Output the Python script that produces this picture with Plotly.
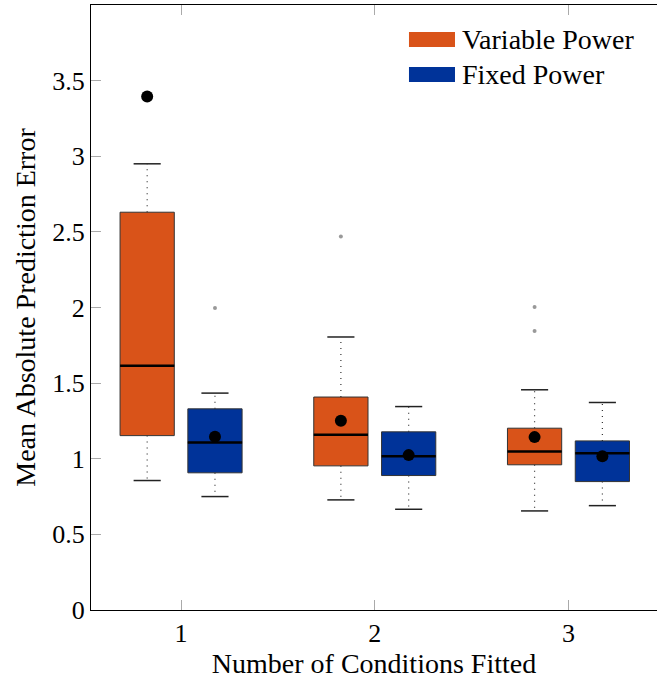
import plotly.graph_objects as go

groups = [1, 2, 3]
series_names = ["Variable Power", "Fixed Power"]
colors = ["#D95319", "#003399"]

# Variable Power stats
var_lower = [0.856, 0.728, 0.655]
var_q1 = [1.153, 0.953, 0.960]
var_median = [1.615, 1.158, 1.048]
var_q3 = [2.63, 1.408, 1.202]
var_upper = [2.95, 1.805, 1.456]
var_mean = [3.395, 1.251, 1.143]
var_outliers = [[], [2.47], [2.003, 1.844]]

# Fixed Power stats
fix_lower = [0.750, 0.666, 0.690]
fix_q1 = [0.907, 0.889, 0.849]
fix_median = [1.107, 1.017, 1.037]
fix_q3 = [1.330, 1.178, 1.118]
fix_upper = [1.434, 1.345, 1.372]
fix_mean = [1.145, 1.024, 1.017]
fix_outliers = [[1.997], [], []]

offsets = [-0.175, 0.175]
box_w = 0.28
cap_w = 0.14

FONT = "'Liberation Serif', 'Times New Roman', serif"

fig = go.Figure()

series = [
    (var_lower, var_q1, var_median, var_q3, var_upper, var_mean, var_outliers),
    (fix_lower, fix_q1, fix_median, fix_q3, fix_upper, fix_mean, fix_outliers),
]

for si, (lo, q1, med, q3, up, mean, outl) in enumerate(series):
    xs = [g + offsets[si] for g in groups]
    fig.add_trace(go.Box(
        x=xs, q1=q1, median=med, q3=q3, lowerfence=q1, upperfence=q3,
        width=box_w, fillcolor=colors[si], name=series_names[si],
        line=dict(color="#333333", width=1), whiskerwidth=0,
        boxpoints=False, showlegend=False,
    ))

for si, (lo, q1, med, q3, up, mean, outl) in enumerate(series):
    xs = [g + offsets[si] for g in groups]
    # whiskers (dotted)
    wx, wy = [], []
    for i, x in enumerate(xs):
        wx += [x, x, None, x, x, None]
        wy += [q3[i], up[i], None, q1[i], lo[i], None]
    fig.add_trace(go.Scatter(x=wx, y=wy, mode="lines",
                             line=dict(color="#333333", width=1.2, dash="1px,5px"),
                             showlegend=False, hoverinfo="skip"))
    # caps
    cx, cy = [], []
    for i, x in enumerate(xs):
        cx += [x - cap_w / 2, x + cap_w / 2, None, x - cap_w / 2, x + cap_w / 2, None]
        cy += [up[i], up[i], None, lo[i], lo[i], None]
    fig.add_trace(go.Scatter(x=cx, y=cy, mode="lines",
                             line=dict(color="#222222", width=1.5),
                             showlegend=False, hoverinfo="skip"))
    # median
    mx, my = [], []
    for i, x in enumerate(xs):
        mx += [x - box_w / 2, x + box_w / 2, None]
        my += [med[i], med[i], None]
    fig.add_trace(go.Scatter(x=mx, y=my, mode="lines",
                             line=dict(color="black", width=2.5),
                             showlegend=False, hoverinfo="skip"))
    # outliers
    ox, oy = [], []
    for i, x in enumerate(xs):
        for v in outl[i]:
            ox.append(x)
            oy.append(v)
    if ox:
        fig.add_trace(go.Scatter(x=ox, y=oy, mode="markers",
                                 marker=dict(color="#999999", size=4),
                                 showlegend=False, hoverinfo="skip"))
    # means
    fig.add_trace(go.Scatter(x=xs, y=mean, mode="markers",
                             marker=dict(color="black", size=12),
                             showlegend=False, hoverinfo="skip"))

# manual legend (swatches + text) in plot-area paper coordinates
legend_rows = [(0.9554, 0.9306), (0.8975, 0.8727)]
for si, name in enumerate(series_names):
    y_top, y_bot = legend_rows[si]
    fig.add_shape(type="rect", xref="paper", yref="paper",
                  x0=0.5618, x1=0.6431, y0=y_bot, y1=y_top,
                  fillcolor=colors[si], line=dict(width=0))
    fig.add_annotation(xref="paper", yref="paper", x=0.652, y=(y_top + y_bot) / 2,
                       xanchor="left", yanchor="middle", text=name, showarrow=False,
                       font=dict(family=FONT, size=28, color="black"))

fig.update_layout(
    width=657, height=681,
    margin=dict(l=91, r=0, t=5, b=71),
    plot_bgcolor="white", paper_bgcolor="white",
    font=dict(family=FONT, size=26, color="black"),
    boxmode="overlay",
    showlegend=False,
    xaxis=dict(range=[0.535, 3.457], tickvals=groups, ticktext=[str(g) for g in groups],
               ticks="inside", ticklen=10, tickcolor="#aaaaaa", showgrid=False,
               tickfont=dict(size=26),
               zeroline=False, showline=True, linecolor="black", linewidth=1, mirror="ticks",
               title=dict(text="Number of Conditions Fitted", standoff=6,
                          font=dict(size=28))),
    yaxis=dict(range=[0, 4.0], tickvals=[0, 0.5, 1, 1.5, 2, 2.5, 3, 3.5],
               ticktext=["0", "0.5", "1", "1.5", "2", "2.5", "3", "3.5"],
               ticks="inside", ticklen=10, tickcolor="#aaaaaa", showgrid=False,
               tickfont=dict(size=26),
               zeroline=False, showline=True, linecolor="black", linewidth=1,
               title=dict(text="Mean Absolute Prediction Error", standoff=8,
                          font=dict(size=28))),
)

fig.write_html("out.html")
